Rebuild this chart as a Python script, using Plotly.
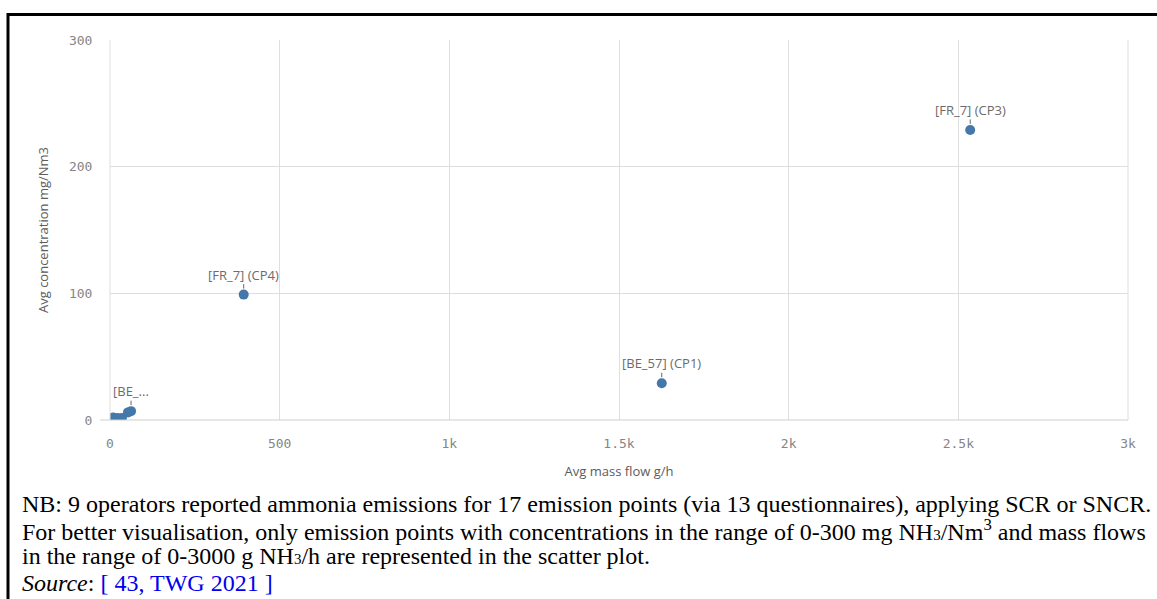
import plotly.graph_objects as go

# emission points (avg mass flow g/h, avg concentration mg/Nm3)
mass_flow = [9, 22, 35, 53, 62, 394, 1626, 2535]
concentration = [2, 1.5, 1.5, 6, 7, 99, 29, 229]
point_labels = ["", "", "", "", "[BE_...", "[FR_7] (CP4)", "[BE_57] (CP1)", "[FR_7] (CP3)"]

x_ticks = [0, 500, 1000, 1500, 2000, 2500, 3000]
x_tick_text = ["0", "500", "1k", "1.5k", "2k", "2.5k", "3k"]
y_ticks = [0, 100, 200, 300]

W, H = 1157, 599
L, R, T, B = 110, 29, 40, 179
pw, ph = W - L - R, H - T - B


def px(x):
    return (x - L) / pw


def py(y):
    return (H - B - y) / ph


fig = go.Figure()
fig.add_trace(go.Scatter(
    x=mass_flow, y=concentration, mode="markers",
    marker=dict(size=10, color="#4477aa"),
    hoverinfo="x+y", showlegend=False,
))

# point labels with the little connector tick
for x, y, t in zip(mass_flow, concentration, point_labels):
    if not t:
        continue
    fig.add_annotation(
        x=x, y=y, text=t, showarrow=True, arrowhead=0, arrowwidth=1,
        arrowcolor="#666666", ax=0, ay=-20, standoff=6,
        font=dict(family="Open Sans", size=13, color="#6b6b6b"),
        borderpad=0,
    )

grid = "#dedede"
fig.update_xaxes(
    range=[0, 3000], tickvals=x_ticks, ticktext=x_tick_text,
    showgrid=True, gridcolor=grid, gridwidth=1, zeroline=False,
    showline=False, ticks="outside", ticklen=11, tickcolor="rgba(0,0,0,0)",
    tickfont=dict(family="DejaVu Sans Mono", size=13, color="#858585"),
    title=dict(text="Avg mass flow g/h", standoff=17,
               font=dict(family="Open Sans", size=13, color="#5c5c5c")),
)
fig.update_yaxes(
    range=[0, 300], tickvals=y_ticks,
    showgrid=True, gridcolor=grid, gridwidth=1, zeroline=False,
    showline=False, ticks="outside", ticklen=14, tickcolor="rgba(0,0,0,0)",
    tickfont=dict(family="DejaVu Sans Mono", size=13, color="#858585"),
    title=dict(text="Avg concentration mg/Nm3", standoff=17,
               font=dict(family="Open Sans", size=13, color="#5c5c5c")),
)

# left and right plot frame lines + bottom axis line
fig.add_shape(type="line", xref="paper", yref="paper", x0=0, x1=0, y0=0, y1=1,
              line=dict(color=grid, width=1))
fig.add_shape(type="line", xref="paper", yref="paper", x0=1, x1=1, y0=0, y1=1,
              line=dict(color=grid, width=1))
fig.add_shape(type="line", xref="paper", yref="paper", x0=px(100), x1=1, y0=0, y1=0,
              line=dict(color="#cfcfcf", width=1))

# black page border (top and left)
fig.add_shape(type="line", xref="paper", yref="paper", x0=px(8), x1=px(W + 5),
              y0=py(14.5), y1=py(14.5), line=dict(color="black", width=3))
fig.add_shape(type="line", xref="paper", yref="paper", x0=px(8), x1=px(8),
              y0=py(13), y1=py(H + 5), line=dict(color="black", width=3))

small3 = "<span style='font-size:15px'>3</span>"
caption = [
    "NB: 9 operators reported ammonia emissions for 17 emission points (via 13 questionnaires), applying SCR or SNCR.",
    "For better visualisation, only emission points with concentrations in the range of 0-300 mg NH" + small3
    + "/Nm<sup>3</sup> and mass flows",
    "in the range of 0-3000 g NH" + small3 + "/h are represented in the scatter plot.",
    "<i>Source</i>: <span style='color:#0000ee'>[ 43, TWG 2021 ]</span>",
]
caption_y = [504, 530, 556, 583]
for line, yy in zip(caption, caption_y):
    fig.add_annotation(
        xref="paper", yref="paper", x=px(20), y=py(yy), xanchor="left", yanchor="middle",
        text=line, showarrow=False, align="left",
        font=dict(family="Liberation Serif", size=24, color="black"),
    )

fig.update_layout(
    width=W, height=H,
    margin=dict(l=L, r=R, t=T, b=B),
    paper_bgcolor="white", plot_bgcolor="white",
)

# page body has a default 8px margin; drop it so the figure fills the window
fig.write_html("out.html", config={"displayModeBar": False},
               post_script="document.body.style.margin='0';")
